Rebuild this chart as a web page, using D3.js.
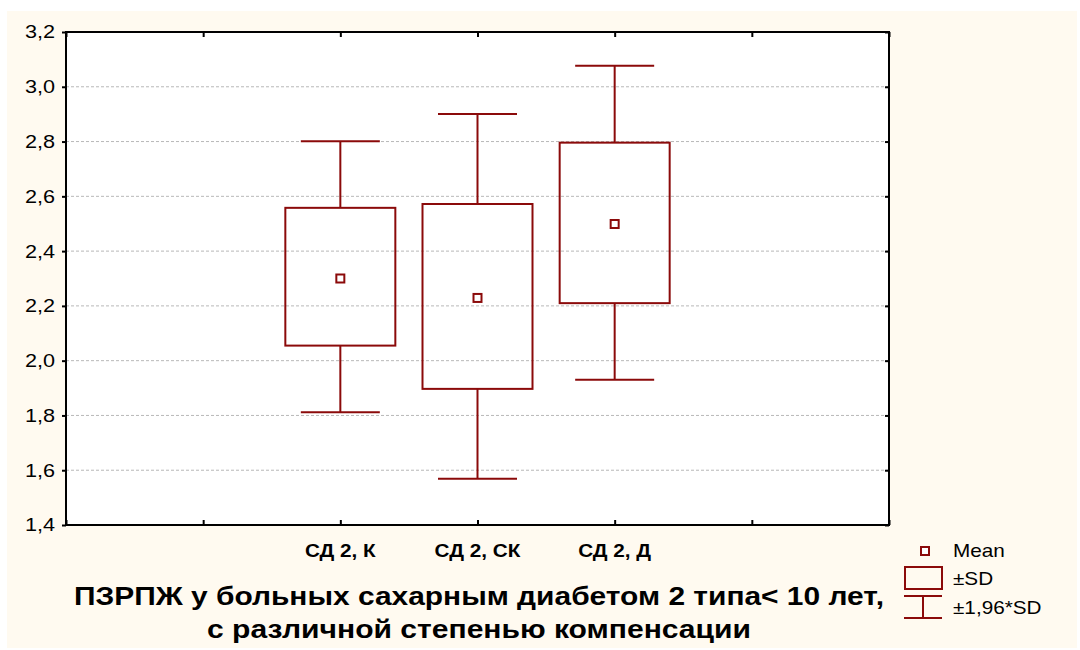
<!DOCTYPE html>
<html>
<head>
<meta charset="utf-8">
<script src="https://cdn.jsdelivr.net/npm/d3@7"></script>
<style>
  html, body { margin: 0; padding: 0; background: #ffffff; }
  svg { display: block; }
  text { font-family: "Liberation Sans", Arial, sans-serif; }
</style>
</head>
<body>
<script>
// ---- data ----
const categories = ["СД 2, К", "СД 2, СК", "СД 2, Д"];
const catPositions = [2, 3, 4];
const means   = [2.300, 2.229, 2.499];
const sdLow   = [2.055, 1.897, 2.210];
const sdHigh  = [2.558, 2.572, 2.796];
const ciLow   = [1.812, 1.569, 1.930];
const ciHigh  = [2.801, 2.901, 3.077];
const yTicks  = [1.4, 1.6, 1.8, 2.0, 2.2, 2.4, 2.6, 2.8, 3.0, 3.2];
const xTicks  = [0, 1, 2, 3, 4, 5, 6];
const titleLines = ["ПЗРПЖ у больных сахарным диабетом 2 типа< 10 лет,", "с различной степенью компенсации"];
const legendLabels = ["Mean", "±SD", "±1,96*SD"];

const W = 1080, H = 650;
const M = { left: 66, top: 32, right: 889, bottom: 525 };
const dark = "#8b0a0a";

const svg = d3.select("body").append("svg").attr("width", W).attr("height", H);

// background
svg.append("rect").attr("x", 7).attr("y", 11).attr("width", 1070).attr("height", 637).attr("fill", "#fffaf0");
svg.append("rect").attr("x", M.left).attr("y", M.top).attr("width", M.right - M.left).attr("height", M.bottom - M.top).attr("fill", "#ffffff");

const x = d3.scaleLinear().domain([0, 6]).range([M.left, M.right]);
const y = d3.scaleLinear().domain([1.4, 3.2]).range([M.bottom, M.top]);

function stretch(sel, f) {
  sel.each(function() {
    const w = this.getComputedTextLength();
    d3.select(this).attr("textLength", w * f).attr("lengthAdjust", "spacingAndGlyphs");
  });
}

// grid
svg.append("g").selectAll("line").data(yTicks.filter(t => t > 1.45 && t < 3.15)).join("line")
  .attr("x1", M.left).attr("x2", M.right)
  .attr("y1", d => y(d)).attr("y2", d => y(d))
  .attr("stroke", "#b8b8b8").attr("stroke-width", 1).attr("stroke-dasharray", "3,2");

// axes
const fmt = d => d3.format(".1f")(d).replace(".", ",");
const yAxis = svg.append("g").attr("transform", `translate(${M.left},0)`)
  .call(d3.axisLeft(y).tickValues(yTicks).tickFormat(fmt).tickSize(4).tickPadding(7));
yAxis.select(".domain").remove();
yAxis.selectAll(".tick line").attr("stroke", "#000").attr("stroke-width", 2);
yAxis.selectAll("text").attr("font-size", 18.5).attr("fill", "#000")
  .style("font-family", '"Liberation Sans", Arial, sans-serif');
stretch(yAxis.selectAll("text"), 1.17);

const yAxisR = svg.append("g").attr("transform", `translate(${M.right},0)`)
  .call(d3.axisLeft(y).tickValues(yTicks).tickFormat("").tickSize(4));
yAxisR.select(".domain").remove();
yAxisR.selectAll(".tick line").attr("stroke", "#000").attr("stroke-width", 2);

const xAxisB = svg.append("g").attr("transform", `translate(0,${M.bottom})`)
  .call(d3.axisTop(x).tickValues(xTicks).tickFormat("").tickSize(5));
xAxisB.select(".domain").remove();
xAxisB.selectAll(".tick line").attr("stroke", "#000").attr("stroke-width", 2);
const xAxisT = svg.append("g").attr("transform", `translate(0,${M.top})`)
  .call(d3.axisBottom(x).tickValues(xTicks).tickFormat("").tickSize(5));
xAxisT.select(".domain").remove();
xAxisT.selectAll(".tick line").attr("stroke", "#000").attr("stroke-width", 2);

// category labels
const catLab = svg.append("g").selectAll("text").data(categories).join("text")
  .attr("x", (d, i) => x(catPositions[i])).attr("y", 557)
  .attr("text-anchor", "middle").attr("font-size", 18).attr("font-weight", "bold").attr("fill", "#000")
  .text(d => d);
stretch(catLab, 1.15);

// frame
svg.append("rect").attr("x", M.left).attr("y", M.top).attr("width", M.right - M.left).attr("height", M.bottom - M.top)
  .attr("fill", "none").attr("stroke", "#000").attr("stroke-width", 2);

// boxes
const boxW = 110, capW = 79, mk = 8;
const g = svg.append("g");
categories.forEach((c, i) => {
  const cx = x(catPositions[i]);
  g.append("line").attr("x1", cx).attr("x2", cx).attr("y1", y(ciHigh[i])).attr("y2", y(sdHigh[i]))
    .attr("stroke", dark).attr("stroke-width", 2);
  g.append("line").attr("x1", cx).attr("x2", cx).attr("y1", y(sdLow[i])).attr("y2", y(ciLow[i]))
    .attr("stroke", dark).attr("stroke-width", 2);
  g.append("line").attr("x1", cx - capW / 2).attr("x2", cx + capW / 2).attr("y1", y(ciHigh[i])).attr("y2", y(ciHigh[i]))
    .attr("stroke", dark).attr("stroke-width", 2);
  g.append("line").attr("x1", cx - capW / 2).attr("x2", cx + capW / 2).attr("y1", y(ciLow[i])).attr("y2", y(ciLow[i]))
    .attr("stroke", dark).attr("stroke-width", 2);
  g.append("rect").attr("x", cx - boxW / 2).attr("y", y(sdHigh[i])).attr("width", boxW).attr("height", y(sdLow[i]) - y(sdHigh[i]))
    .attr("fill", "none").attr("stroke", dark).attr("stroke-width", 2);
  g.append("rect").attr("x", cx - mk / 2).attr("y", y(means[i]) - mk / 2).attr("width", mk).attr("height", mk)
    .attr("fill", "#fff").attr("stroke", dark).attr("stroke-width", 2);
});

// title
const tl = svg.append("g").selectAll("text").data(titleLines).join("text")
  .attr("x", 479).attr("y", (d, i) => 605 + i * 33)
  .attr("text-anchor", "middle").attr("font-size", 25).attr("font-weight", "bold").attr("fill", "#000")
  .text(d => d);
tl.attr("textLength", (d, i) => [810, 544][i]).attr("lengthAdjust", "spacingAndGlyphs");

// legend
const lg = svg.append("g");
lg.append("rect").attr("x", 921).attr("y", 547).attr("width", 8).attr("height", 8)
  .attr("fill", "#fff").attr("stroke", dark).attr("stroke-width", 2);
lg.append("rect").attr("x", 905).attr("y", 567).attr("width", 37).attr("height", 22)
  .attr("fill", "none").attr("stroke", dark).attr("stroke-width", 2);
lg.append("line").attr("x1", 904).attr("x2", 942).attr("y1", 596).attr("y2", 596).attr("stroke", dark).attr("stroke-width", 2);
lg.append("line").attr("x1", 904).attr("x2", 942).attr("y1", 618).attr("y2", 618).attr("stroke", dark).attr("stroke-width", 2);
lg.append("line").attr("x1", 923).attr("x2", 923).attr("y1", 596).attr("y2", 618).attr("stroke", dark).attr("stroke-width", 2);
const lt = lg.selectAll("text").data(legendLabels).join("text")
  .attr("x", 953).attr("y", (d, i) => [557, 585, 614][i])
  .attr("font-size", 18.5).attr("fill", "#000").text(d => d);
stretch(lt, 1.12);
</script>
</body>
</html>
